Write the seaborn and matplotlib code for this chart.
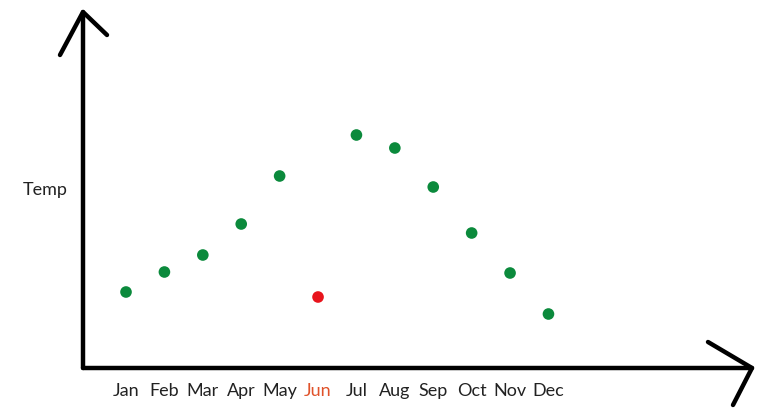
import pandas as pd
import seaborn as sns
import matplotlib.pyplot as plt

# values (arbitrary temperature units)
months = ['Jan', 'Feb', 'Mar', 'Apr', 'May', 'Jun',
          'Jul', 'Aug', 'Sep', 'Oct', 'Nov', 'Dec']
temps = [76, 96, 113, 144, 192, 71, 233, 220, 181, 135, 95, 54]
status = ['normal'] * 5 + ['odd'] + ['normal'] * 6

df = pd.DataFrame({'month': months, 'temp': temps, 'status': status})

sns.set_style('white')
plt.rcParams['font.family'] = ['Lato', 'DejaVu Sans']

fig = plt.figure(figsize=(7.61, 4.11), dpi=100)
ax = fig.add_axes([83 / 761, 43 / 411, 669 / 761, 356 / 411])

my_pal = {'normal': '#0b8a3c', 'odd': '#e8141c'}
sns.scatterplot(x='month', y='temp', data=df, hue='status',
                palette=my_pal, s=70, edgecolor='none', legend=False, ax=ax)

ax.set_xlim(-1.12, 16.3)
ax.set_ylim(0, 356)
for sp in ax.spines.values():
    sp.set_visible(False)
ax.set_yticks([])
ax.tick_params(axis='x', length=0, pad=11, labelsize=13, colors='#222222')
ax.get_xticklabels()[5].set_color('#e0522a')
ax.set_xlabel('')
ax.set_ylabel('Temp', rotation=0, fontsize=13, color='#222222', va='center')
ax.yaxis.set_label_coords(-0.057, 0.50)

'''hand-drawn style axes with arrowheads'''
tr = ax.transAxes
kw = dict(color='black', lw=3.2, solid_capstyle='round', clip_on=False, transform=tr)
ax.plot([0, 0], [0, 1], **kw)
ax.plot([0, 1], [0, 0], **kw)
ax.plot([-23 / 669, 0, 24 / 669], [1 - 43 / 356, 1, 1 - 23 / 356], **kw)
ax.plot([1 - 44 / 669, 1, 1 - 19 / 669], [26 / 356, 0, -37 / 356], **kw)

fig.savefig('out.png', dpi=100)
